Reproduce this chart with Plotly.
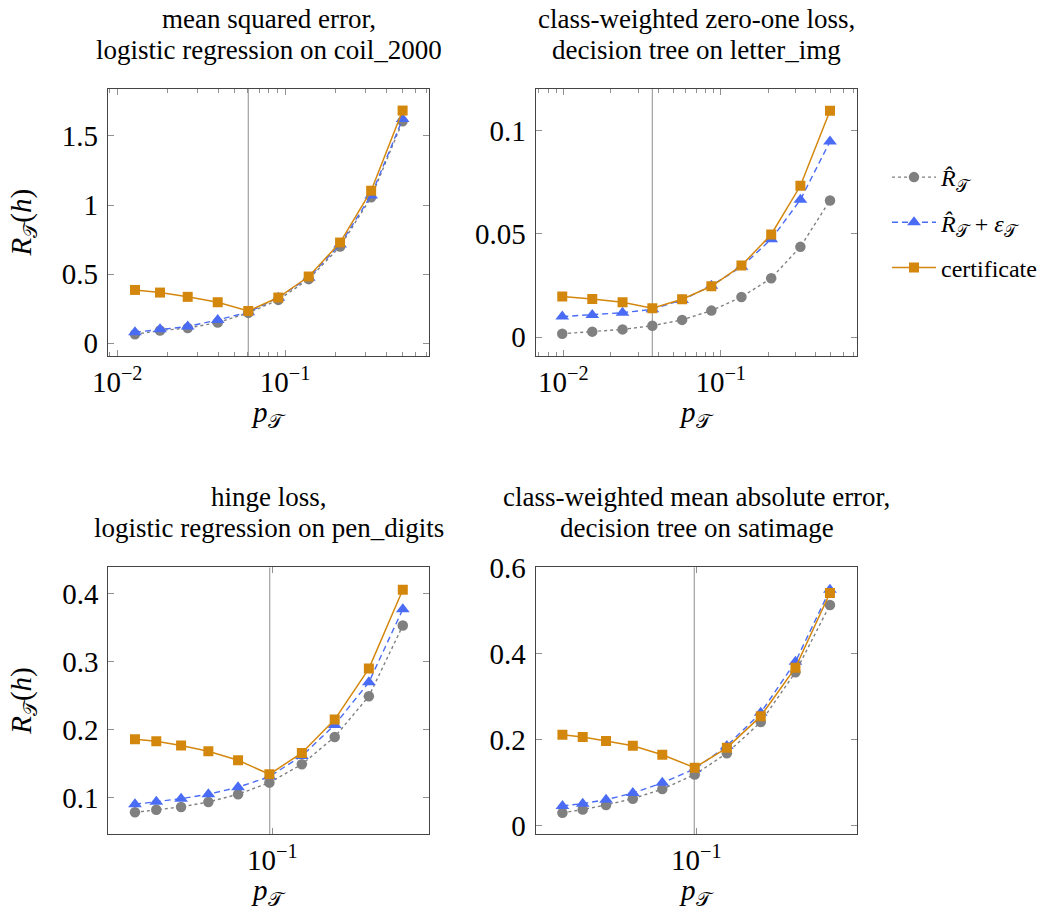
import plotly.graph_objects as go
from plotly.subplots import make_subplots
import math

# ---------------- data ----------------
title_line1 = ["mean squared error,", "class-weighted zero-one loss,",
               "hinge loss,", "class-weighted mean absolute error,"]
title_line2 = ["logistic regression on coil_2000", "decision tree on letter_img",
               "logistic regression on pen_digits", "decision tree on satimage"]

p1 = [0.01276, 0.01799, 0.0263, 0.0397, 0.0604, 0.0912, 0.1384, 0.2128, 0.326, 0.502]
emp1 = [0.065, 0.092, 0.11, 0.15, 0.22, 0.314, 0.464, 0.70, 1.056, 1.606]
bound1 = [0.080, 0.101, 0.121, 0.169, 0.225, 0.33, 0.475, 0.715, 1.07, 1.623]
cert1 = [0.386, 0.367, 0.336, 0.297, 0.234, 0.331, 0.483, 0.729, 1.104, 1.684]

p2 = [0.00985, 0.01528, 0.0238, 0.0368, 0.0569, 0.0873, 0.1355, 0.2094, 0.321, 0.495]
emp2 = [0.0016, 0.0026, 0.0037, 0.0055, 0.0083, 0.0128, 0.0194, 0.0285, 0.0437, 0.0662]
bound2 = [0.0099, 0.0107, 0.0118, 0.0134, 0.018, 0.0248, 0.0341, 0.0474, 0.0665, 0.0948]
cert2 = [0.0196, 0.0184, 0.0168, 0.0139, 0.0183, 0.0246, 0.0346, 0.0497, 0.0733, 0.1097]

p3 = [0.01836, 0.02388, 0.03243, 0.0454, 0.0655, 0.0964, 0.1439, 0.2158, 0.329, 0.500]
emp3 = [0.0789, 0.0828, 0.0868, 0.0941, 0.1054, 0.1225, 0.1495, 0.1897, 0.2495, 0.3534]
bound3 = [0.0907, 0.0946, 0.099, 0.1054, 0.1157, 0.1314, 0.1618, 0.2074, 0.27, 0.3775]
cert3 = [0.1863, 0.1833, 0.1770, 0.1686, 0.1554, 0.1348, 0.1662, 0.2152, 0.2902, 0.4059]

p4 = [0.01995, 0.02547, 0.03373, 0.04656, 0.0664, 0.0981, 0.1445, 0.2173, 0.330, 0.500]
emp4 = [0.0292, 0.0369, 0.0476, 0.0622, 0.0845, 0.1183, 0.168, 0.2405, 0.3565, 0.5132]
bound4 = [0.0453, 0.0507, 0.0599, 0.0753, 0.0991, 0.1314, 0.185, 0.262, 0.381, 0.5486]
cert4 = [0.2113, 0.2059, 0.1967, 0.1852, 0.1644, 0.1344, 0.1806, 0.2543, 0.3672, 0.5409]

vline_p = [0.0604, 0.0368, 0.0968, 0.0976]

x_ranges = [[0.00881, 0.7211], [0.00668, 0.7379], [0.01321, 0.6934], [0.01446, 0.6950]]
y_ranges = [[-0.092, 1.840], [-0.0092, 0.1202], [0.0466, 0.439], [-0.0207, 0.6008]]

y_tickvals = [[0, 0.5, 1, 1.5], [0, 0.05, 0.1], [0.1, 0.2, 0.3, 0.4], [0, 0.2, 0.4, 0.6]]
y_ticktext = [["0", "0.5", "1", "1.5"], ["0", "0.05", "0.1"], ["0.1", "0.2", "0.3", "0.4"], ["0", "0.2", "0.4", "0.6"]]

x_tickvals_top = [0.01, 0.1]
x_ticktext_top = ["10<sup>−2</sup>", "10<sup>−1</sup>"]
x_tickvals_bot = [0.1]
x_ticktext_bot = ["10<sup>−1</sup>"]
minor_vals = [k * 10 ** e for e in (-3, -2, -1) for k in range(2, 10)]

series_names = ["<i>R\u0302</i><sub>𝒯</sub>", "<i>R\u0302</i><sub>𝒯</sub> + <i>ε</i><sub>𝒯</sub>", "certificate"]

# ---------------- style ----------------
FONT = "Liberation Serif, serif"
GRAY = "#808080"
BLUE = "#4a6cf5"
ORANGE = "#d4870d"
W, H = 1054, 915


def px_x(v):
    return v / W


def px_y(v):
    return 1 - v / H


# panel boxes in pixels: (left, right, top, bottom)
boxes = [(108, 429, 89, 356), (535.7, 857.3, 89, 356),
         (108.3, 429.3, 567.3, 834.3), (535.7, 857.3, 567.3, 834.3)]

data = [(p1, emp1, bound1, cert1), (p2, emp2, bound2, cert2),
        (p3, emp3, bound3, cert3), (p4, emp4, bound4, cert4)]

fig = make_subplots(rows=2, cols=2)

for i, (p, emp, bnd, cert) in enumerate(data):
    r, c = i // 2 + 1, i % 2 + 1
    show = i == 0
    fig.add_trace(go.Scatter(x=[vline_p[i], vline_p[i]], y=y_ranges[i], mode="lines",
                             line=dict(color="#a0a0a0", width=1.2), showlegend=False,
                             hoverinfo="skip"), row=r, col=c)
    fig.add_trace(go.Scatter(x=p, y=emp, mode="lines+markers", name=series_names[0],
                             legendgroup="a", showlegend=show,
                             line=dict(color=GRAY, width=1.4, dash="dot"),
                             marker=dict(symbol="circle", size=10.5, color=GRAY)), row=r, col=c)
    fig.add_trace(go.Scatter(x=p, y=bnd, mode="lines+markers", name=series_names[1],
                             legendgroup="b", showlegend=show,
                             line=dict(color=BLUE, width=1.4, dash="6px,4px"),
                             marker=dict(symbol="triangle-up", size=12, color=BLUE)), row=r, col=c)
    fig.add_trace(go.Scatter(x=p, y=cert, mode="lines+markers", name=series_names[2],
                             legendgroup="c", showlegend=show,
                             line=dict(color=ORANGE, width=1.5),
                             marker=dict(symbol="square", size=10, color=ORANGE)), row=r, col=c)

    l, rr, t, b = boxes[i]
    top = i < 2
    xa = dict(type="log", range=[math.log10(x_ranges[i][0]), math.log10(x_ranges[i][1])],
              domain=[px_x(l), px_x(rr)], showgrid=False, zeroline=False, automargin=False,
              showline=True, linecolor="#444444", linewidth=1.2, mirror="ticks",
              ticks="inside", ticklen=6, tickcolor="#909090", tickwidth=1,
              tickmode="array",
              tickvals=x_tickvals_top if top else x_tickvals_bot,
              ticktext=x_ticktext_top if top else x_ticktext_bot,
              tickfont=dict(family=FONT, size=29, color="black"))
    if top:
        xa["minor"] = dict(tickmode="array", tickvals=minor_vals, ticks="inside",
                           ticklen=3.5, tickcolor="#909090", showgrid=False)
    ya = dict(range=y_ranges[i], domain=[px_y(b), px_y(t)], showgrid=False, zeroline=False,
              automargin=False, ticklabelstandoff=3,
              showline=True, linecolor="#444444", linewidth=1.2, mirror="ticks",
              ticks="inside", ticklen=6, tickcolor="#909090", tickwidth=1,
              tickmode="array", tickvals=y_tickvals[i], ticktext=y_ticktext[i],
              tickfont=dict(family=FONT, size=29, color="black"))
    fig.update_xaxes(xa, row=r, col=c)
    fig.update_yaxes(ya, row=r, col=c)

    cx = px_x((l + rr) / 2)
    # titles (two lines)
    fig.add_annotation(x=cx, y=px_y(t - 70), xref="paper", yref="paper",
                       text=title_line1[i], showarrow=False, xanchor="center", yanchor="middle",
                       font=dict(family=FONT, size=27, color="black"))
    fig.add_annotation(x=cx, y=px_y(t - 39), xref="paper", yref="paper",
                       text=title_line2[i], showarrow=False, xanchor="center", yanchor="middle",
                       font=dict(family=FONT, size=27, color="black"))
    # x-axis title
    fig.add_annotation(x=cx, y=px_y(b + 58), xref="paper", yref="paper",
                       text="<i>p</i><sub>𝒯</sub>", showarrow=False, xanchor="center",
                       yanchor="middle", font=dict(family=FONT, size=29, color="black"))
    if c == 1:
        fig.add_annotation(x=px_x(23), y=px_y((t + b) / 2), xref="paper", yref="paper",
                           text="<i>R</i><sub>𝒯</sub>(<i>h</i>)", showarrow=False,
                           textangle=-90, xanchor="center", yanchor="middle",
                           font=dict(family=FONT, size=29, color="black"))

fig.update_layout(
    width=W, height=H, margin=dict(l=0, r=0, t=0, b=0, autoexpand=False),
    plot_bgcolor="white", paper_bgcolor="white",
    legend=dict(x=px_x(887), y=px_y(155), xanchor="left", yanchor="top",
                font=dict(family=FONT, size=24, color="black"),
                tracegroupgap=11, itemwidth=44, bgcolor="rgba(0,0,0,0)"),
)

fig.write_html("out.html", config={"displayModeBar": False},
               post_script="document.body.style.margin='0';")
